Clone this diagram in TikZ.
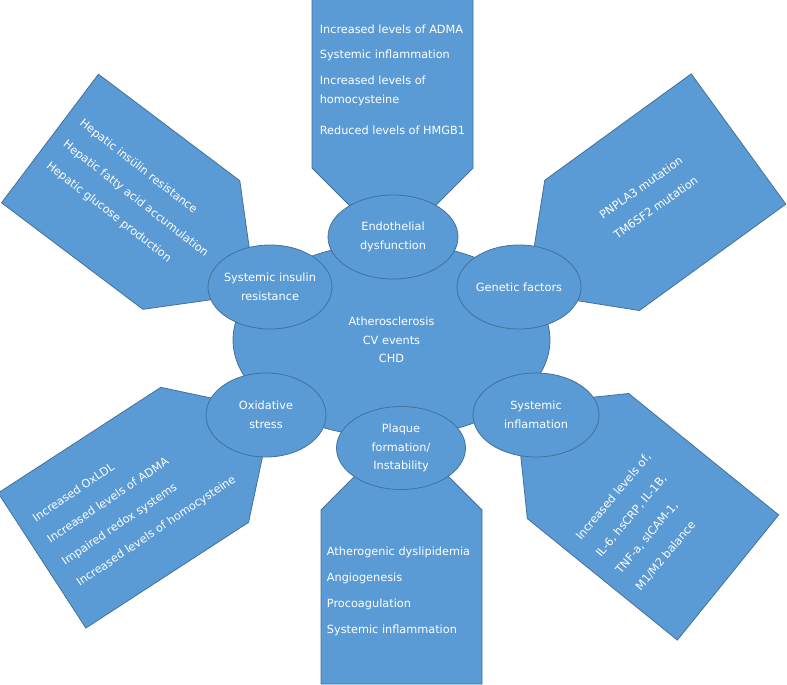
\documentclass[tikz,border=0pt]{standalone}
\usepackage{fontspec}
\setmainfont{DejaVu Sans}
\usepackage{xcolor}
\usetikzlibrary{shapes.geometric,positioning}
\definecolor{boxblue}{HTML}{5B9BD5}
\definecolor{edgeblue}{HTML}{41719C}

\begin{document}
\begin{tikzpicture}[x=1pt, y=-1pt,
  every node/.style={text=white, font=\fontsize{11.3}{18.5}\selectfont},
  box/.style={draw=edgeblue, fill=boxblue, line width=0.8pt},
  bubble/.style={ellipse, draw=edgeblue, fill=boxblue, line width=0.8pt,
    minimum width=124pt, minimum height=84pt, inner xsep=-6pt, inner ysep=0pt, align=center}]
\useasboundingbox (0,0) rectangle (787,685);

% Pointed boxes
\draw[box, shift={(392.5,-2)}, rotate=-90] (0,-80.5) -- (170,-80.5) -- (250.5,0) -- (170,80.5) -- (0,80.5) -- cycle;
\draw[box, shift={(401.5,684)}, rotate=90] (0,-80.5) -- (174,-80.5) -- (254.5,0) -- (174,80.5) -- (0,80.5) -- cycle;
\draw[box, shift={(50,138.5)}, rotate=-37] (0,-80.5) -- (177,-80.5) -- (257.5,0) -- (177,80.5) -- (0,80.5) -- cycle;
\draw[box, shift={(738.5,139)}, rotate=-144] (0,-80.5) -- (181,-80.5) -- (261.5,0) -- (181,80.5) -- (0,80.5) -- cycle;
\draw[box, shift={(728,577.5)}, rotate=141] (0,-80.5) -- (193,-80.5) -- (273.5,0) -- (193,80.5) -- (0,80.5) -- cycle;
\draw[box, shift={(42,560.5)}, rotate=33] (0,-80.5) -- (194,-80.5) -- (274.5,0) -- (194,80.5) -- (0,80.5) -- cycle;

% Box texts
\node[align=left] (TED) at (392.5,80) {Increased levels of ADMA\\[6.5pt]
  Systemic inflammation\\[7.5pt]Increased levels of\\homocysteine\\[13pt]Reduced levels of HMGB1};
\node[align=left] (TPF) at (398.5,591.5) {Atherogenic dyslipidemia\\[7.5pt]Angiogenesis\\[7.5pt]
  Procoagulation\\[7.5pt]Systemic inflammation};
\node[align=left, rotate=-38] (TIR) at (135.5,199) {Hepatic insülin resistance\\[8.5pt]
  Hepatic fatty acid accumulation\\[8.5pt]Hepatic glucose production};
\node[align=left, rotate=35] (TGF) at (648.5,197.3) {PNPLA3 mutation\\[6.5pt]TM6SF2 mutation};
\node[align=left, rotate=34] (TOS) at (134.5,499) {Increased OxLDL\\[7.5pt]Increased levels of ADMA\\[7.5pt]
  Impaired redox systems\\[7.5pt]Increased levels of homocysteine};
\node[align=left, rotate=50] (TSI) at (643.3,521.6) {Increased levels of,\\[7.5pt]IL-6, hsCRP, IL-1B,\\[7.5pt]
  TNF-a, sICAM-1,\\[7.5pt]M1/M2 balance};

% Ellipses
\node[bubble, minimum width=317pt, minimum height=194pt] (C) at (391.5,340) {Atherosclerosis\\CV events\\CHD};
\node[bubble, minimum width=130pt] (ED) at (393,237) {Endothelial\\dysfunction};
\node[bubble] (IR) at (270,287) {Systemic insulin\\resistance};
\node[bubble] (GF) at (519,287) {Genetic factors};
\node[bubble, minimum width=120pt] (OS) at (266,415) {Oxidative\\stress};
\node[bubble, minimum width=126pt] (SI) at (536,415) {Systemic\\inflamation};
\node[bubble, minimum width=129pt, minimum height=83pt] (PF) at (401,448) {Plaque\\formation/\\Instability};
\end{tikzpicture}
\end{document}
